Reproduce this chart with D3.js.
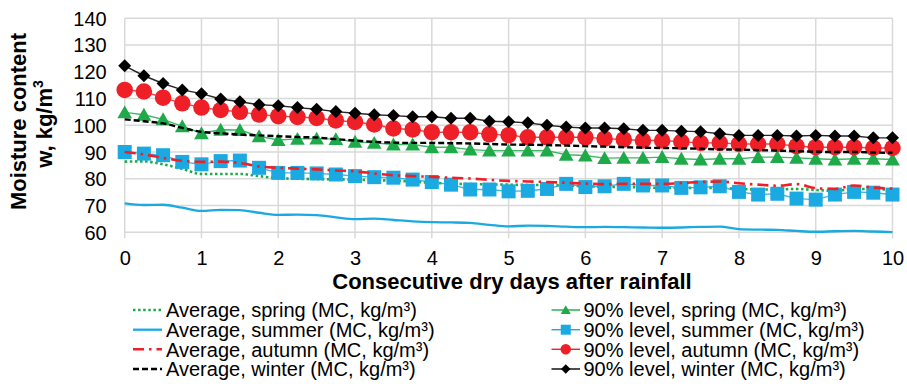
<!DOCTYPE html>
<html>
<head>
<meta charset="utf-8">
<script src="https://cdn.jsdelivr.net/npm/d3@7/dist/d3.min.js"></script>
<style>
  html, body { margin: 0; padding: 0; background: #fff; }
  svg text { font-family: "Liberation Sans", Arial, sans-serif; fill: #000; }
</style>
</head>
<body>
<svg id="chart" width="907" height="384"></svg>
<script>
// Days after rainfall (quarter-day steps)
const days = [0, 0.25, 0.5, 0.75, 1, 1.25, 1.5, 1.75, 2, 2.25, 2.5, 2.75, 3, 3.25, 3.5, 3.75,
  4, 4.25, 4.5, 4.75, 5, 5.25, 5.5, 5.75, 6, 6.25, 6.5, 6.75, 7, 7.25, 7.5, 7.75,
  8, 8.25, 8.5, 8.75, 9, 9.25, 9.5, 9.75, 10];

// Average moisture content, kg/m³
const avgSpring = [86.4, 86.5, 85.4, 83.7, 81.8, 81.8, 81.8, 81.0, 80.2, 80.0, 79.9, 79.8, 79.7, 79.5, 79.3, 78.9,
  78.5, 78.2, 78.0, 77.9, 77.8, 77.7, 77.7, 77.5, 77.2, 77.0, 76.9, 76.8, 76.6, 76.6, 76.6, 76.6,
  76.2, 76.0, 76.0, 76.2, 75.8, 75.5, 76.2, 76.1, 76.0];
const avgSummer = [70.8, 70.2, 70.3, 69.2, 68.0, 68.4, 68.3, 67.3, 66.5, 66.6, 66.4, 65.6, 64.9, 65.1, 64.6, 64.1,
  63.8, 63.7, 63.5, 62.8, 62.2, 62.5, 62.4, 62.1, 61.9, 62.0, 61.9, 61.8, 61.7, 61.8, 62.0, 62.1,
  61.2, 61.0, 60.9, 60.5, 60.2, 60.4, 60.5, 60.3, 60.1];
const avgAutumn = [90.0, 89.1, 87.8, 86.7, 86.3, 86.4, 85.9, 84.6, 84.1, 83.8, 83.5, 83.1, 82.8, 82.0, 81.3, 81.0,
  80.7, 80.4, 80.1, 79.6, 79.2, 79.0, 78.8, 78.5, 78.2, 78.0, 78.1, 78.1, 78.1, 78.4, 78.8, 79.0,
  78.3, 77.8, 77.4, 78.0, 76.5, 76.2, 77.5, 76.7, 76.3];
const avgWinter = [102.2, 101.5, 100.7, 99.0, 97.5, 97.0, 96.5, 96.2, 95.9, 95.6, 95.4, 94.8, 94.3, 93.8, 93.5, 93.4,
  93.4, 93.3, 93.2, 93.0, 92.8, 92.7, 92.6, 92.4, 92.2, 92.0, 91.8, 91.6, 91.5, 91.4, 91.2, 91.0,
  90.9, 90.7, 90.5, 90.3, 90.1, 90.0, 90.0, 89.8, 89.7];

// 90% level moisture content, kg/m³
const p90Spring = [104.8, 103.9, 102.2, 99.6, 97.0, 98.3, 98.2, 95.9, 94.5, 94.9, 95.0, 94.8, 93.8, 93.4, 92.8, 92.8,
  91.8, 91.8, 90.9, 90.5, 90.5, 90.5, 90.5, 89.0, 88.7, 87.7, 87.8, 87.8, 88.1, 87.5, 87.2, 87.5,
  87.5, 88.1, 88.1, 87.8, 87.5, 87.2, 87.5, 87.5, 87.2];
const p90Summer = [90.0, 89.4, 88.8, 86.3, 85.4, 86.6, 86.8, 84.1, 82.2, 82.2, 82.0, 81.6, 81.0, 80.6, 80.4, 79.7,
  78.8, 77.8, 76.0, 76.0, 75.3, 75.5, 76.2, 78.1, 76.9, 77.2, 78.1, 77.5, 77.5, 76.6, 76.8, 77.2,
  75.1, 74.1, 74.4, 72.6, 72.2, 74.1, 75.1, 74.8, 74.1];
const p90Autumn = [113.2, 112.6, 110.3, 108.2, 106.6, 105.7, 105.0, 104.0, 103.4, 103.1, 102.7, 101.8, 101.2, 100.3, 98.8, 98.4,
  97.4, 97.4, 97.4, 96.6, 96.3, 95.5, 95.5, 95.5, 95.5, 95.0, 94.7, 94.3, 94.3, 93.8, 93.4, 93.4,
  93.0, 93.0, 93.0, 92.2, 91.8, 91.8, 91.8, 91.5, 91.5];
const p90Winter = [122.2, 118.5, 115.6, 113.2, 111.8, 109.8, 108.8, 107.7, 107.3, 106.6, 106.0, 105.1, 104.5, 103.9, 103.6, 103.2,
  103.2, 102.6, 102.6, 101.5, 101.3, 100.9, 100.0, 99.3, 99.0, 99.0, 98.7, 98.1, 98.1, 97.8, 97.6, 96.8,
  96.2, 96.2, 96.2, 96.0, 96.2, 96.0, 96.0, 95.3, 95.3];

const xTicks = [0, 1, 2, 3, 4, 5, 6, 7, 8, 9, 10];
const yTicks = [60, 70, 80, 90, 100, 110, 120, 130, 140];

const xTitle = "Consecutive dry days after rainfall";
const yTitleLine1 = "Moisture content";

const GREEN = "#1faa4a", BLUE = "#1ba9e1", RED = "#ee1f26", BLACK = "#000000";

// Series in drawing order (later ones sit on top)
const series = [
  { name: "Average, spring (MC, kg/m³)", values: avgSpring, color: GREEN, kind: "line", dash: "2.5,2.6", width: 2.6, col: 0, row: 0 },
  { name: "90% level, spring (MC, kg/m³)", values: p90Spring, color: GREEN, kind: "marker", symbol: "triangle", col: 1, row: 0 },
  { name: "Average, summer (MC, kg/m³)", values: avgSummer, color: BLUE, kind: "line", dash: null, width: 2.3, col: 0, row: 1 },
  { name: "90% level, summer (MC, kg/m³)", values: p90Summer, color: BLUE, kind: "marker", symbol: "square", col: 1, row: 1 },
  { name: "Average, autumn (MC, kg/m³)", values: avgAutumn, color: RED, kind: "line", dash: "11,5,2.5,5", width: 2.6, col: 0, row: 2 },
  { name: "90% level, autumn (MC, kg/m³)", values: p90Autumn, color: RED, kind: "marker", symbol: "circle", col: 1, row: 2 },
  { name: "Average, winter (MC, kg/m³)", values: avgWinter, color: BLACK, kind: "line", dash: "6,3", width: 2.4, col: 0, row: 3 },
  { name: "90% level, winter (MC, kg/m³)", values: p90Winter, color: BLACK, kind: "marker", symbol: "diamond", col: 1, row: 3 }
];

const svg = d3.select("#chart");
const plot = { left: 124.7, right: 892.5, top: 18.2, bottom: 232.3 };

const x = d3.scaleLinear().domain([0, 10]).range([plot.left, plot.right]);
const y = d3.scaleLinear().domain([60, 140]).range([plot.bottom, plot.top]);

const GRID = "#d9d9d9";

// Grid lines
const grid = svg.append("g");
grid.selectAll("line.h").data(yTicks).join("line")
  .attr("x1", plot.left).attr("x2", plot.right)
  .attr("y1", d => y(d)).attr("y2", d => y(d))
  .attr("stroke", GRID).attr("stroke-width", 1.5);
grid.selectAll("line.v").data(xTicks).join("line")
  .attr("x1", d => x(d)).attr("x2", d => x(d))
  .attr("y1", plot.top).attr("y2", plot.bottom + 6)
  .attr("stroke", GRID).attr("stroke-width", 1.5);

// Axes (labels only; lines come from the grid)
const xAxis = d3.axisBottom(x).tickValues(xTicks).tickSize(0).tickPadding(0).tickFormat(d3.format("d"));
const gx = svg.append("g").attr("transform", `translate(0,${plot.bottom})`).call(xAxis);
gx.select(".domain").remove();
gx.selectAll("text").attr("font-size", 20).attr("dy", null).attr("y", 33)
  .attr("font-family", "Liberation Sans, Arial, sans-serif").attr("fill", "#000");

const yAxis = d3.axisLeft(y).tickValues(yTicks).tickSize(0).tickPadding(0).tickFormat(d3.format("d"));
const gy = svg.append("g").attr("transform", `translate(${plot.left - 18},0)`).call(yAxis);
gy.select(".domain").remove();
gy.selectAll("text").attr("font-size", 20).attr("dy", "0.35em")
  .attr("font-family", "Liberation Sans, Arial, sans-serif").attr("fill", "#000");

// Axis titles
svg.append("text")
  .attr("x", 512).attr("y", 289)
  .attr("text-anchor", "middle").attr("font-size", 22).attr("font-weight", "bold")
  .text(xTitle);

const yt = svg.append("g");
yt.append("text")
  .attr("transform", "translate(26,121.5) rotate(-90)")
  .attr("text-anchor", "middle").attr("font-size", 22).attr("font-weight", "bold")
  .text(yTitleLine1);
const yt2 = yt.append("text")
  .attr("transform", "translate(52,124) rotate(-90)")
  .attr("text-anchor", "middle").attr("font-size", 22).attr("font-weight", "bold");
yt2.append("tspan").text("w, kg/m");
yt2.append("tspan").attr("font-size", 14).attr("dy", -9).text("3");

// Symbols
function symbolPath(kind, size) {
  const s = size / 2;
  if (kind === "triangle") return `M0,${-s}L${s * 1.05},${s * 0.85}L${-s * 1.05},${s * 0.85}Z`;
  if (kind === "square") return `M${-s},${-s}H${s}V${s}H${-s}Z`;
  if (kind === "diamond") return `M0,${-s}L${s},0L0,${s}L${-s},0Z`;
  return d3.arc()({ innerRadius: 0, outerRadius: s, startAngle: 0, endAngle: 2 * Math.PI });
}
const markerSize = { triangle: 14, square: 14, circle: 16.5, diamond: 13 };

const line = d3.line().x((d, i) => x(days[i])).y(d => y(d)).curve(d3.curveMonotoneX);
const straight = d3.line().x((d, i) => x(days[i])).y(d => y(d));

const gSeries = svg.append("g");
series.forEach(s => {
  const g = gSeries.append("g");
  if (s.kind === "line") {
    g.append("path").attr("d", line(s.values))
      .attr("fill", "none").attr("stroke", s.color).attr("stroke-width", s.width)
      .attr("stroke-dasharray", s.dash);
  } else {
    g.append("path").attr("d", straight(s.values))
      .attr("fill", "none").attr("stroke", s.color).attr("stroke-width", 1.4)
      .attr("stroke-opacity", 0.85);
    g.selectAll("path.m").data(s.values).join("path")
      .attr("class", "m")
      .attr("transform", (d, i) => `translate(${x(days[i])},${y(d)})`)
      .attr("d", symbolPath(s.symbol, markerSize[s.symbol]))
      .attr("fill", s.color);
  }
});

// Legend, two columns of four rows
const legendCols = [
  { lineX1: 133, lineX2: 162, textX: 166 },
  { lineX1: 551.5, lineX2: 580, textX: 583.5 }
];
const legendRowY = [310, 329.7, 349.3, 369];
const legendMarkerSize = { triangle: 9.5, square: 10, circle: 10.5, diamond: 9.5 };
const lg = svg.append("g");
series.forEach(s => {
  const c = legendCols[s.col];
  const ly = legendRowY[s.row];
  const item = lg.append("g");
  if (s.kind === "line") {
    item.append("line").attr("x1", c.lineX1).attr("x2", c.lineX2).attr("y1", ly).attr("y2", ly)
      .attr("stroke", s.color).attr("stroke-width", s.width).attr("stroke-dasharray", s.dash);
  } else {
    item.append("line").attr("x1", c.lineX1).attr("x2", c.lineX2).attr("y1", ly).attr("y2", ly)
      .attr("stroke", s.color).attr("stroke-width", 1.4);
    item.append("path").attr("transform", `translate(${(c.lineX1 + c.lineX2) / 2},${ly})`)
      .attr("d", symbolPath(s.symbol, legendMarkerSize[s.symbol])).attr("fill", s.color);
  }
  item.append("text").attr("x", c.textX).attr("y", ly).attr("dy", "0.36em")
    .attr("font-size", 20).text(s.name);
});
</script>
</body>
</html>
